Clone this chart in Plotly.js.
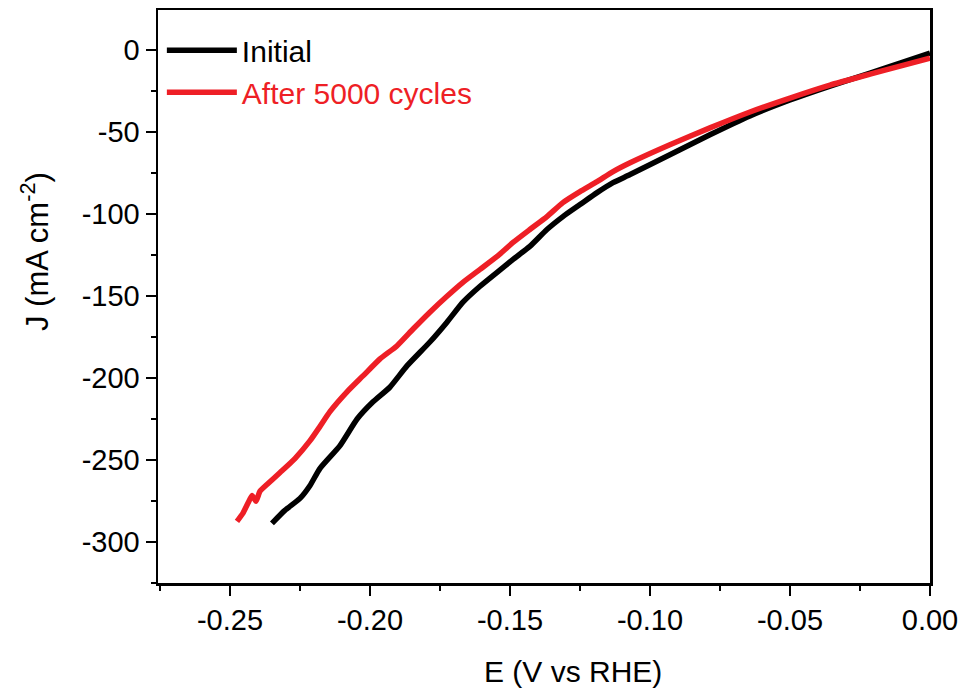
<!DOCTYPE html>
<html>
<head>
<meta charset="utf-8">
<script src="https://cdn.plot.ly/plotly-3.0.1.min.js"></script>
<style>html,body{margin:0;padding:0;background:#fff;}#chart{width:967px;height:694px;}</style>
</head>
<body>
<div id="chart"></div>
<script>
// Initial LSV curve
const initialE = [-0.2350,-0.2304,-0.2250,-0.2214,-0.2179,-0.2107,-0.2046,-0.1989,-0.1929,-0.1868,-0.1786,-0.1725,-0.1668,-0.1607,-0.1546,-0.1489,-0.1429,-0.1368,-0.1311,-0.1250,-0.1189,-0.1132,-0.1071,-0.0929,-0.0786,-0.0643,-0.0500,-0.0357,-0.0214,-0.0107,0.0000];
const initialJ = [-288.6,-280.7,-273.4,-265.5,-255.2,-241.2,-225.0,-214.5,-205.6,-192.6,-178.0,-165.9,-153.7,-144.0,-135.5,-127.6,-119.7,-109.4,-101.5,-94.2,-86.9,-80.8,-75.9,-63.8,-51.6,-40.1,-30.4,-21.9,-14.0,-7.9,-1.8];
// After 5000 cycles
const afterE = [-0.2475,-0.2454,-0.2436,-0.2421,-0.2407,-0.2393,-0.2364,-0.2321,-0.2268,-0.2214,-0.2179,-0.2143,-0.2082,-0.2025,-0.1964,-0.1904,-0.1846,-0.1786,-0.1725,-0.1668,-0.1607,-0.1546,-0.1489,-0.1429,-0.1368,-0.1311,-0.1250,-0.1189,-0.1132,-0.1071,-0.0929,-0.0786,-0.0643,-0.0500,-0.0357,-0.0214,-0.0107,0.0000];
const afterJ = [-287.4,-282.5,-276.4,-271.6,-275.2,-269.1,-264.3,-257.6,-249.1,-238.2,-229.6,-220.5,-208.4,-198.7,-188.3,-180.4,-170.1,-159.8,-150.1,-141.6,-133.7,-125.8,-117.3,-109.4,-101.5,-93.0,-86.3,-80.2,-74.1,-68.7,-57.7,-47.4,-37.7,-29.2,-21.3,-14.6,-9.7,-4.9];

const seriesNames = ['Initial', 'After 5000 cycles'];
const seriesColors = ['#000000', '#ee1f26'];

const xTickVals = [-0.25,-0.20,-0.15,-0.10,-0.05,0.00];
const xTickText = ["-0.25","-0.20","-0.15","-0.10","-0.05","0.00"];
const yTickVals = [0,-50,-100,-150,-200,-250,-300];
const yTickText = ["0","-50","-100","-150","-200","-250","-300"];

const FONT = "Liberation Sans, Arial, sans-serif";

const traces = [
  {x: initialE, y: initialJ, type: 'scatter', mode: 'lines',
   name: '<span style="color:' + seriesColors[0] + '">' + seriesNames[0] + '</span>',
   line: {color: seriesColors[0], width: 5.5, shape: 'spline', smoothing: 0.5}},
  {x: afterE, y: afterJ, type: 'scatter', mode: 'lines',
   name: '<span style="color:' + seriesColors[1] + '">' + seriesNames[1] + '</span>',
   line: {color: seriesColors[1], width: 5.5, shape: 'spline', smoothing: 0.5}}
];

const axisCommon = {
  showgrid: false, zeroline: false, showline: true, linecolor: '#000', linewidth: 2.5,
  mirror: true, ticks: 'outside', ticklen: 10, tickwidth: 2, tickcolor: '#000',
  tickfont: {family: FONT, size: 29, color: '#000'}
};

const layout = {
  width: 967, height: 694,
  margin: {l: 158, r: 37, t: 10, b: 111},
  paper_bgcolor: '#fff', plot_bgcolor: '#fff',
  showlegend: true,
  legend: {x: 0.005, y: 0.975, xanchor: 'left', yanchor: 'top', bgcolor: 'rgba(0,0,0,0)',
           font: {family: FONT, size: 30, color: '#000'}, tracegroupgap: 0, itemwidth: 70},
  xaxis: Object.assign({}, axisCommon, {
    range: [-0.2757, 0], tickvals: xTickVals, ticktext: xTickText,
    minor: {ticks: 'outside', ticklen: 5, tickwidth: 2, tickcolor: '#000', dtick: 0.025, tick0: 0, showgrid: false}
  }),
  yaxis: Object.assign({}, axisCommon, {
    range: [-325, 24.5], tickvals: yTickVals, ticktext: yTickText,
    minor: {ticks: 'outside', ticklen: 5, tickwidth: 2, tickcolor: '#000', dtick: 25, tick0: 0, showgrid: false}
  }),
  annotations: [
    {text: 'E (V vs RHE)', xref: 'paper', yref: 'paper', x: (573-158)/772, y: -(671-583)/573,
     xanchor: 'center', yanchor: 'middle', showarrow: false, font: {family: FONT, size: 30, color: '#000'}},
    {text: 'J (mA cm<sup>-2</sup>)', xref: 'paper', yref: 'paper', x: -(158-35)/772, y: (583-251)/573,
     xanchor: 'center', yanchor: 'middle', textangle: -90, showarrow: false, font: {family: FONT, size: 31, color: '#000'}}
  ]
};

Plotly.newPlot('chart', traces, layout, {displayModeBar: false, staticPlot: true});
</script>
</body>
</html>
